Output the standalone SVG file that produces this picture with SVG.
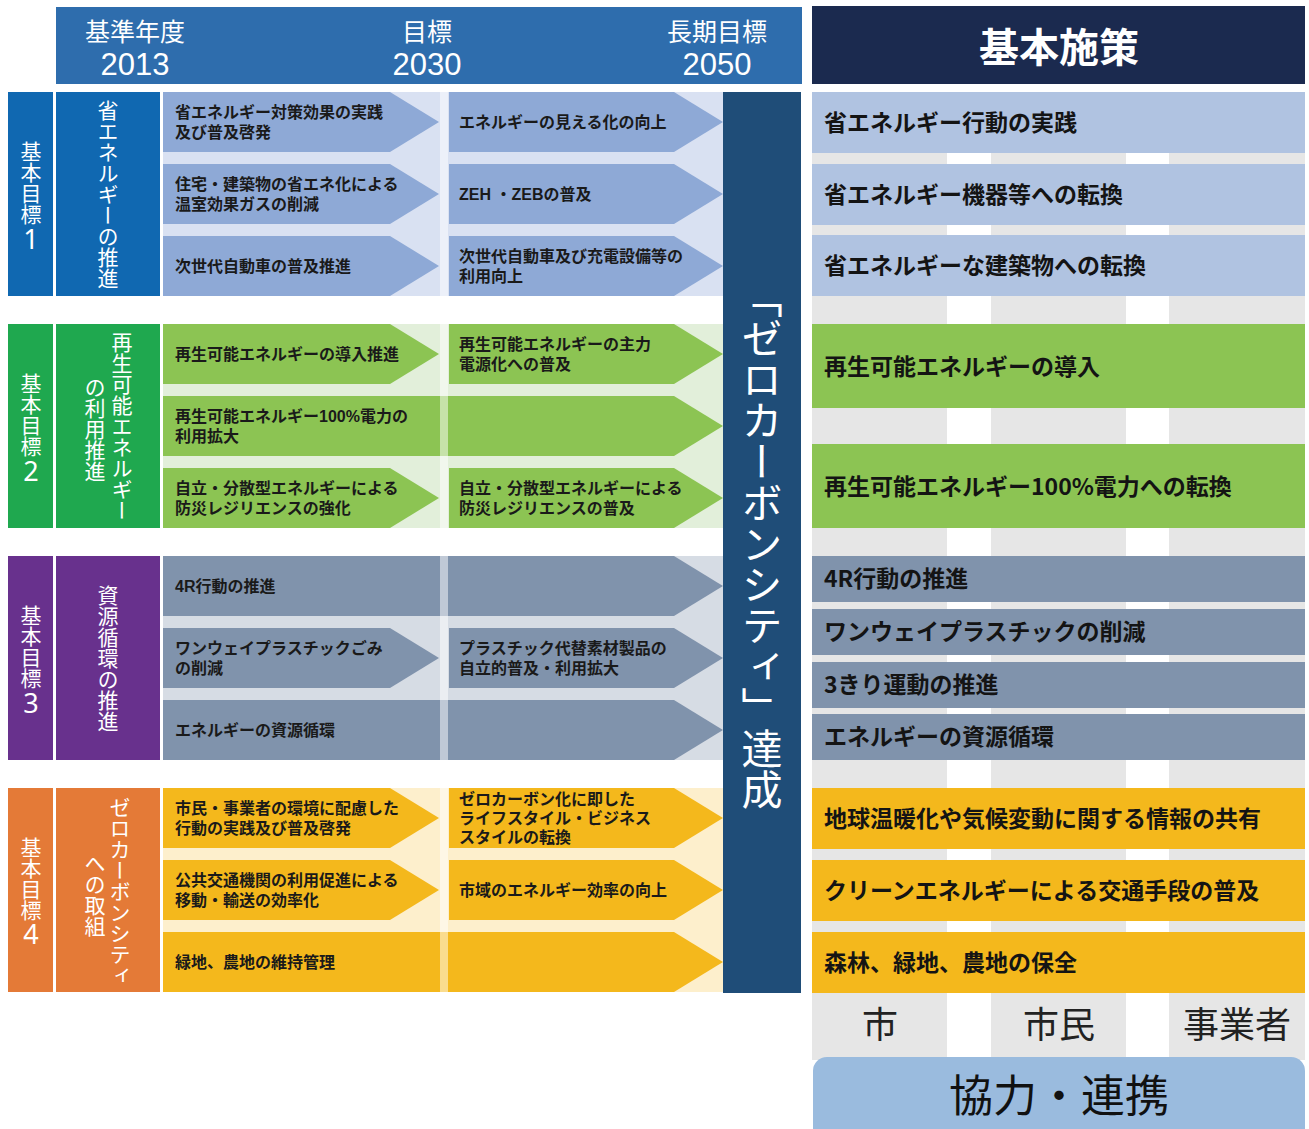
<svg xmlns="http://www.w3.org/2000/svg" width="1309" height="1129" viewBox="0 0 1309 1129">
<style>
text{font-family:'Noto Sans CJK JP','Noto Sans',sans-serif}
.hd{fill:#fff;font-size:25px;text-anchor:middle;font-family:'Liberation Sans','Noto Sans CJK JP',sans-serif}
.yr{font-size:31px;font-family:'Liberation Sans','Noto Sans CJK JP',sans-serif}
.a{font-size:16px;font-weight:bold;fill:#1a1a1a;font-family:'Liberation Sans','Noto Sans CJK JP',sans-serif}
.r{font-size:23px;font-weight:bold;fill:#141414}
.v{fill:#fff;font-size:21px;writing-mode:vertical-rl;text-anchor:middle}
.num{fill:#fff;font-size:27px;text-anchor:middle;font-family:'Noto Sans',sans-serif}
.big{fill:#fff;font-size:41px;writing-mode:vertical-rl;text-anchor:middle}
.strip{fill:#fff;fill-opacity:0.5}
.g1d{fill:#1068B1}.g1a{fill:#8EA9D6}.g1b{fill:#D9E1F2}.g1r{fill:#B0C3E1}
.g2d{fill:#1FA84F}.g2a{fill:#8CC453}.g2b{fill:#E2EFDA}
.g3d{fill:#68318D}.g3a{fill:#8093AC}.g3b{fill:#D6DCE4}
.g4d{fill:#E47A37}.g4a{fill:#F4B81C}.g4b{fill:#FDEFCC}
.gray{fill:#E6E6E6}
.who{font-size:36px;fill:#222;text-anchor:middle}
</style>
<rect width="1309" height="1129" fill="#fff"/>

<g id="header-years">
<rect x="56" y="7" width="746" height="77" fill="#2E6DAD"/>
<text class="hd" x="135" y="41">基準年度<tspan class="yr" x="135" y="75">2013</tspan></text>
<text class="hd" x="427" y="41">目標<tspan class="yr" x="427" y="75">2030</tspan></text>
<text class="hd" x="717" y="41">長期目標<tspan class="yr" x="717" y="75">2050</tspan></text>
</g>

<g id="header-policy">
<rect x="812" y="6" width="493" height="78" fill="#1B2A4F"/>
<text x="1059" y="62" fill="#fff" font-size="40" font-weight="bold" text-anchor="middle">基本施策</text>
</g>

<g id="stakeholder-columns">
<rect class="gray" x="812" y="92" width="135" height="968"/>
<rect class="gray" x="991" y="92" width="135" height="968"/>
<rect class="gray" x="1169" y="92" width="136" height="968"/>
</g>

<g id="goal1">
<rect class="g1d" x="8" y="92" width="45" height="204"/>
<rect class="g1d" x="56" y="92" width="104" height="204"/>
<text class="v" x="31" y="183">基本目標</text>
<text class="num" x="31" y="249">1</text>
<text class="v" x="108" y="194">省エネルギーの推進</text>
<rect class="g1b" x="163" y="92" width="560" height="204"/>
<polygon class="g1a" points="163,92 390,92 439,122 390,152 163,152"/>
<polygon class="g1a" points="449,92 674,92 723,122 674,152 449,152"/>
<polygon class="g1a" points="163,164 390,164 439,194 390,224 163,224"/>
<polygon class="g1a" points="449,164 674,164 723,194 674,224 449,224"/>
<polygon class="g1a" points="163,236 390,236 439,266 390,296 163,296"/>
<polygon class="g1a" points="449,236 674,236 723,266 674,296 449,296"/>
<rect class="strip" x="440" y="92" width="8" height="204"/>
<text class="a" x="175" y="118">省エネルギー対策効果の実践<tspan x="175" dy="20">及び普及啓発</tspan></text>
<text class="a" x="459" y="128">エネルギーの見える化の向上</text>
<text class="a" x="175" y="190">住宅・建築物の省エネ化による<tspan x="175" dy="20">温室効果ガスの削減</tspan></text>
<text class="a" x="459" y="200">ZEH ・ZEBの普及</text>
<text class="a" x="175" y="272">次世代自動車の普及推進</text>
<text class="a" x="459" y="262">次世代自動車及び充電設備等の<tspan x="459" dy="20">利用向上</tspan></text>
</g>

<g id="goal2">
<rect class="g2d" x="8" y="324" width="45" height="204"/>
<rect class="g2d" x="56" y="324" width="104" height="204"/>
<text class="v" x="31" y="415">基本目標</text>
<text class="num" x="31" y="481">2</text>
<text class="v" x="122" y="426">再生可能エネルギー</text>
<text class="v" x="95" y="429">の利用推進</text>
<rect class="g2b" x="163" y="324" width="560" height="204"/>
<polygon class="g2a" points="163,324 390,324 439,354 390,384 163,384"/>
<polygon class="g2a" points="449,324 674,324 723,354 674,384 449,384"/>
<rect class="g2a" x="163" y="396" width="286" height="60"/>
<polygon class="g2a" points="449,396 674,396 723,426 674,456 449,456"/>
<polygon class="g2a" points="163,468 390,468 439,498 390,528 163,528"/>
<polygon class="g2a" points="449,468 674,468 723,498 674,528 449,528"/>
<rect class="strip" x="440" y="324" width="8" height="204"/>
<text class="a" x="175" y="360">再生可能エネルギーの導入推進</text>
<text class="a" x="459" y="350">再生可能エネルギーの主力<tspan x="459" dy="20">電源化への普及</tspan></text>
<text class="a" x="175" y="422">再生可能エネルギー100%電力の<tspan x="175" dy="20">利用拡大</tspan></text>
<text class="a" x="175" y="494">自立・分散型エネルギーによる<tspan x="175" dy="20">防災レジリエンスの強化</tspan></text>
<text class="a" x="459" y="494">自立・分散型エネルギーによる<tspan x="459" dy="20">防災レジリエンスの普及</tspan></text>
</g>

<g id="goal3">
<rect class="g3d" x="8" y="556" width="45" height="204"/>
<rect class="g3d" x="56" y="556" width="104" height="204"/>
<text class="v" x="31" y="647">基本目標</text>
<text class="num" x="31" y="713">3</text>
<text class="v" x="108" y="658">資源循環の推進</text>
<rect class="g3b" x="163" y="556" width="560" height="204"/>
<rect class="g3a" x="163" y="556" width="286" height="60"/>
<polygon class="g3a" points="449,556 674,556 723,586 674,616 449,616"/>
<polygon class="g3a" points="163,628 390,628 439,658 390,688 163,688"/>
<polygon class="g3a" points="449,628 674,628 723,658 674,688 449,688"/>
<rect class="g3a" x="163" y="700" width="286" height="60"/>
<polygon class="g3a" points="449,700 674,700 723,730 674,760 449,760"/>
<rect class="strip" x="440" y="556" width="8" height="204"/>
<text class="a" x="175" y="592">4R行動の推進</text>
<text class="a" x="175" y="654">ワンウェイプラスチックごみ<tspan x="175" dy="20">の削減</tspan></text>
<text class="a" x="459" y="654">プラスチック代替素材製品の<tspan x="459" dy="20">自立的普及・利用拡大</tspan></text>
<text class="a" x="175" y="736">エネルギーの資源循環</text>
</g>

<g id="goal4">
<rect class="g4d" x="8" y="788" width="45" height="204"/>
<rect class="g4d" x="56" y="788" width="104" height="204"/>
<text class="v" x="31" y="879">基本目標</text>
<text class="num" x="31" y="944">4</text>
<text class="v" x="120" y="891">ゼロカーボンシティ</text>
<text class="v" x="95" y="895">への取組</text>
<rect class="g4b" x="163" y="788" width="560" height="204"/>
<polygon class="g4a" points="163,788 390,788 439,818 390,848 163,848"/>
<polygon class="g4a" points="449,788 674,788 723,818 674,848 449,848"/>
<polygon class="g4a" points="163,860 390,860 439,890 390,920 163,920"/>
<polygon class="g4a" points="449,860 674,860 723,890 674,920 449,920"/>
<rect class="g4a" x="163" y="932" width="286" height="60"/>
<polygon class="g4a" points="449,932 674,932 723,962 674,992 449,992"/>
<rect class="strip" x="440" y="788" width="8" height="204"/>
<text class="a" x="175" y="814">市民・事業者の環境に配慮した<tspan x="175" dy="20">行動の実践及び普及啓発</tspan></text>
<text class="a" x="459" y="805">ゼロカーボン化に即した<tspan x="459" dy="19">ライフスタイル・ビジネス</tspan><tspan x="459" dy="19">スタイルの転換</tspan></text>
<text class="a" x="175" y="886">公共交通機関の利用促進による<tspan x="175" dy="20">移動・輸送の効率化</tspan></text>
<text class="a" x="459" y="896">市域のエネルギー効率の向上</text>
<text class="a" x="175" y="968">緑地、農地の維持管理</text>
</g>

<g id="goal-bar">
<rect x="723" y="92" width="78" height="901" fill="#1F4D78"/>
<text class="big" x="762" y="543">「ゼロカーボンシティ」達成</text>
</g>

<g id="policies">
<rect class="g1r" x="812" y="92" width="493" height="61"/>
<text class="r" x="824" y="131">省エネルギー行動の実践</text>
<rect class="g1r" x="812" y="164" width="493" height="61"/>
<text class="r" x="824" y="203">省エネルギー機器等への転換</text>
<rect class="g1r" x="812" y="235" width="493" height="61"/>
<text class="r" x="824" y="274">省エネルギーな建築物への転換</text>
<rect class="g2a" x="812" y="324" width="493" height="84"/>
<text class="r" x="824" y="375">再生可能エネルギーの導入</text>
<rect class="g2a" x="812" y="444" width="493" height="84"/>
<text class="r" x="824" y="495">再生可能エネルギー100%電力への転換</text>
<rect class="g3a" x="812" y="556" width="493" height="46"/>
<text class="r" x="824" y="587">4R行動の推進</text>
<rect class="g3a" x="812" y="609" width="493" height="46"/>
<text class="r" x="824" y="640">ワンウェイプラスチックの削減</text>
<rect class="g3a" x="812" y="662" width="493" height="46"/>
<text class="r" x="824" y="693">3きり運動の推進</text>
<rect class="g3a" x="812" y="714" width="493" height="46"/>
<text class="r" x="824" y="745">エネルギーの資源循環</text>
<rect class="g4a" x="812" y="788" width="493" height="61"/>
<text class="r" x="824" y="827">地球温暖化や気候変動に関する情報の共有</text>
<rect class="g4a" x="812" y="860" width="493" height="61"/>
<text class="r" x="824" y="899">クリーンエネルギーによる交通手段の普及</text>
<rect class="g4a" x="812" y="932" width="493" height="61"/>
<text class="r" x="824" y="971">森林、緑地、農地の保全</text>
</g>

<g id="stakeholders">
<text class="who" x="880" y="1038">市</text>
<text class="who" x="1059" y="1038">市民</text>
<text class="who" x="1237" y="1038">事業者</text>
</g>

<g id="cooperation">
<rect x="813" y="1057" width="492" height="90" rx="14" fill="#9ABBDE"/>
<text x="1059" y="1112" font-size="44" fill="#111" text-anchor="middle">協力・連携</text>
</g>
</svg>
